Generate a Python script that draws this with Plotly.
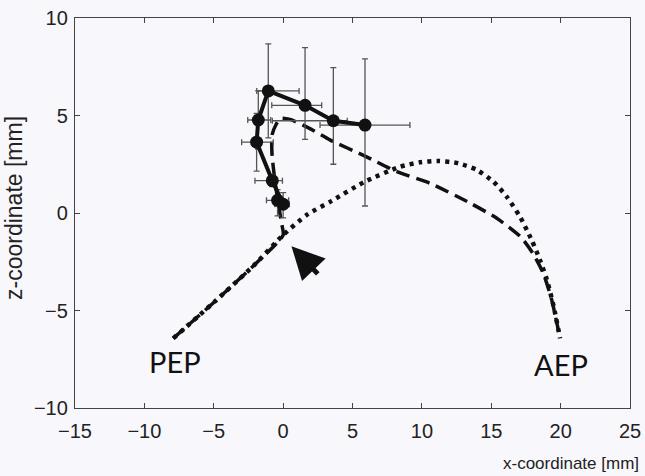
import plotly.graph_objects as go

# Mean trajectory points (x, z) with error bars
pt_x = [-0.40, 0.00, -0.78, -1.91, -1.79, -1.07, 1.58, 3.62, 5.90]
pt_z = [0.65, 0.45, 1.66, 3.63, 4.77, 6.26, 5.52, 4.73, 4.51]
err_x_plus = [0.80, 0.45, 0.73, 1.20, 0.90, 2.22, 1.20, 1.00, 3.24]
err_x_minus = [0.80, 0.60, 1.25, 1.08, 0.76, 0.83, 2.40, 4.40, 3.24]
err_z_plus = [0.55, 0.60, 0.30, 1.48, 1.50, 2.41, 2.96, 2.72, 3.39]
err_z_minus = [0.80, 0.70, 0.30, 1.48, 1.50, 2.41, 1.74, 2.23, 4.15]

# Dashed trajectory
dash_x = [-7.92, -4.8, -2.0, 0.0, -0.12, -0.35, -0.6, -0.8, -0.8, -0.5, -0.2, 0.5, 2.0,
          3.4, 5.9, 8.2, 10.6, 13.5, 15.4, 17.1, 18.0, 18.75, 19.36, 19.96]
dash_z = [-6.43, -4.46, -2.61, -1.13, -0.5, 0.5, 1.7, 3.0, 4.0, 4.55, 4.85, 4.8, 4.3,
          3.74, 2.92, 2.12, 1.52, 0.50, -0.27, -1.21, -2.07, -3.09, -4.46, -6.43]

# Dotted trajectory
dot_x = [-7.92, -4.8, -2.0, 0.0, 1.7, 3.5, 5.9, 8.42, 9.86, 11.18, 12.62, 13.95, 15.15,
         16.11, 17.07, 17.91, 18.51, 19.0, 19.5, 19.96]
dot_z = [-6.43, -4.46, -2.61, -1.13, -0.10, 0.62, 1.61, 2.37, 2.60, 2.67, 2.55, 2.21, 1.61,
         0.84, -0.19, -1.38, -2.41, -3.4, -4.8, -6.43]

x_ticks = [-15, -10, -5, 0, 5, 10, 15, 20, 25]
z_ticks = [-10, -5, 0, 5, 10]

fig = go.Figure()

fig.add_trace(go.Scatter(
    x=dot_x, y=dot_z, mode="lines",
    line=dict(color="#111111", width=4.5, dash="4px,5px", shape="spline", smoothing=0.6),
    hoverinfo="skip", showlegend=False))

fig.add_trace(go.Scatter(
    x=dash_x, y=dash_z, mode="lines",
    line=dict(color="#111111", width=3.5, dash="14px,7px", shape="spline", smoothing=0.6),
    hoverinfo="skip", showlegend=False))

fig.add_trace(go.Scatter(
    x=pt_x, y=pt_z, mode="lines+markers",
    line=dict(color="#111111", width=4),
    marker=dict(color="#111111", size=13),
    error_x=dict(type="data", symmetric=False, array=err_x_plus, arrayminus=err_x_minus,
                 color="#555555", thickness=1.3, width=3),
    error_y=dict(type="data", symmetric=False, array=err_z_plus, arrayminus=err_z_minus,
                 color="#555555", thickness=1.3, width=3),
    showlegend=False))

fig.add_annotation(x=0.6, y=-1.7, ax=2.6, ay=-3.2, xref="x", yref="y", axref="x", ayref="y",
                   showarrow=True, arrowhead=2, arrowsize=1.3, arrowwidth=5,
                   arrowcolor="#111111", standoff=0, text="")

fig.add_annotation(x=-7.79, y=-7.64, xref="x", yref="y", text="PEP", showarrow=False,
                   font=dict(family="Lato", size=29, color="#111111"))
fig.add_annotation(x=20.03, y=-7.79, xref="x", yref="y", text="AEP", showarrow=False,
                   font=dict(family="Lato", size=29, color="#111111"))

fig.add_annotation(x=1, y=0, xref="paper", yref="paper", xanchor="right", yanchor="top",
                   xshift=11, yshift=-44, text="x-coordinate [mm]", showarrow=False,
                   font=dict(family="Liberation Sans, Arial", size=17, color="#222222"))

fig.add_annotation(x=0, y=0.5, xref="paper", yref="paper", xanchor="center", yanchor="middle",
                   xshift=-61, yshift=5, textangle=-90, text="z-coordinate [mm]",
                   showarrow=False,
                   font=dict(family="Liberation Sans, Arial", size=23, color="#222222"))

axis_common = dict(showgrid=False, zeroline=False, showline=True, linecolor="#444444",
                   linewidth=1.3, mirror="ticks", ticks="inside", ticklen=5,
                   tickcolor="#444444", tickwidth=1, automargin=False,
                   tickfont=dict(family="Liberation Sans, Arial", size=20, color="#222222"))

fig.update_layout(
    width=645, height=476,
    margin=dict(l=75, r=15, t=18, b=68),
    paper_bgcolor="#f8f8fc", plot_bgcolor="#f8f8fc",
    xaxis=dict(range=[-15, 25], tickvals=x_ticks, ticklabelstandoff=5, **axis_common),
    yaxis=dict(range=[-10, 10], tickvals=z_ticks, ticklabelstandoff=2, **axis_common),
)

fig.write_html("out.html", config={"displayModeBar": False},
               post_script="document.body.style.margin='0px';document.body.style.background='#f8f8fc';")
